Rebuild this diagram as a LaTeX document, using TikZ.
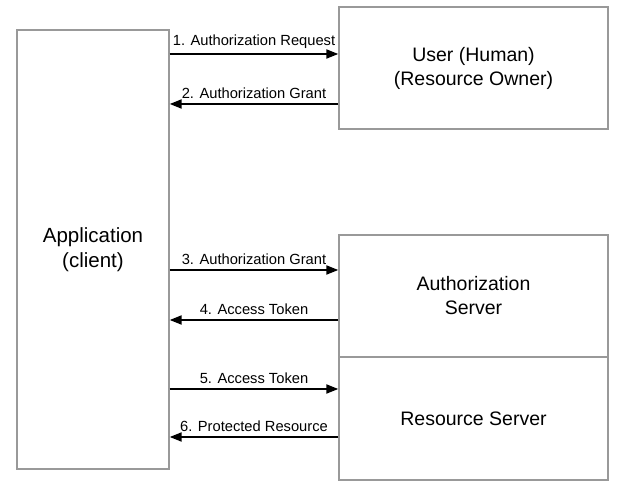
\documentclass[tikz,border=0pt]{standalone}
\usepackage{fontspec}
\setmainfont{Liberation Sans}
\usetikzlibrary{arrows.meta}
\begin{document}
\begin{tikzpicture}[x=1pt,y=1pt,
  box/.style={draw=black!40, line width=1.4pt, fill=white, align=center, inner sep=0pt, font=\fontsize{19.5}{24}\selectfont},
  arr/.style={line width=2pt, -{Triangle[length=12pt,width=9pt]}},
  lbl/.style={above, inner sep=0pt, yshift=4.5pt, font=\fontsize{14.7}{17}\selectfont}]
\useasboundingbox (0,0) rectangle (626,495);
\node[box, minimum width=152pt, minimum height=439pt, font=\fontsize{20.5}{25}\selectfont] (app) at (93,245.5) {Application\\(client)};
\node[box, minimum width=269pt, minimum height=122pt] (user) at (473.5,427) {User (Human)\\(Resource Owner)};
\node[box, minimum width=269pt, minimum height=122pt] (auth) at (473.5,199) {Authorization\\Server};
\node[box, minimum width=269pt, minimum height=123pt] (res) at (473.5,76.5) {Resource Server};
\draw[arr] (app.east |- 0,441) -- node[lbl] {1. Authorization Request} (user.west |- 0,441);
\draw[arr] (user.west |- 0,391) -- node[lbl] {2. Authorization Grant} (app.east |- 0,391);
\draw[arr] (app.east |- 0,225) -- node[lbl] {3. Authorization Grant} (auth.west |- 0,225);
\draw[arr] (auth.west |- 0,175) -- node[lbl] {4. Access Token} (app.east |- 0,175);
\draw[arr] (app.east |- 0,106) -- node[lbl] {5. Access Token} (res.west |- 0,106);
\draw[arr] (res.west |- 0,58) -- node[lbl] {6. Protected Resource} (app.east |- 0,58);
\end{tikzpicture}
\end{document}
